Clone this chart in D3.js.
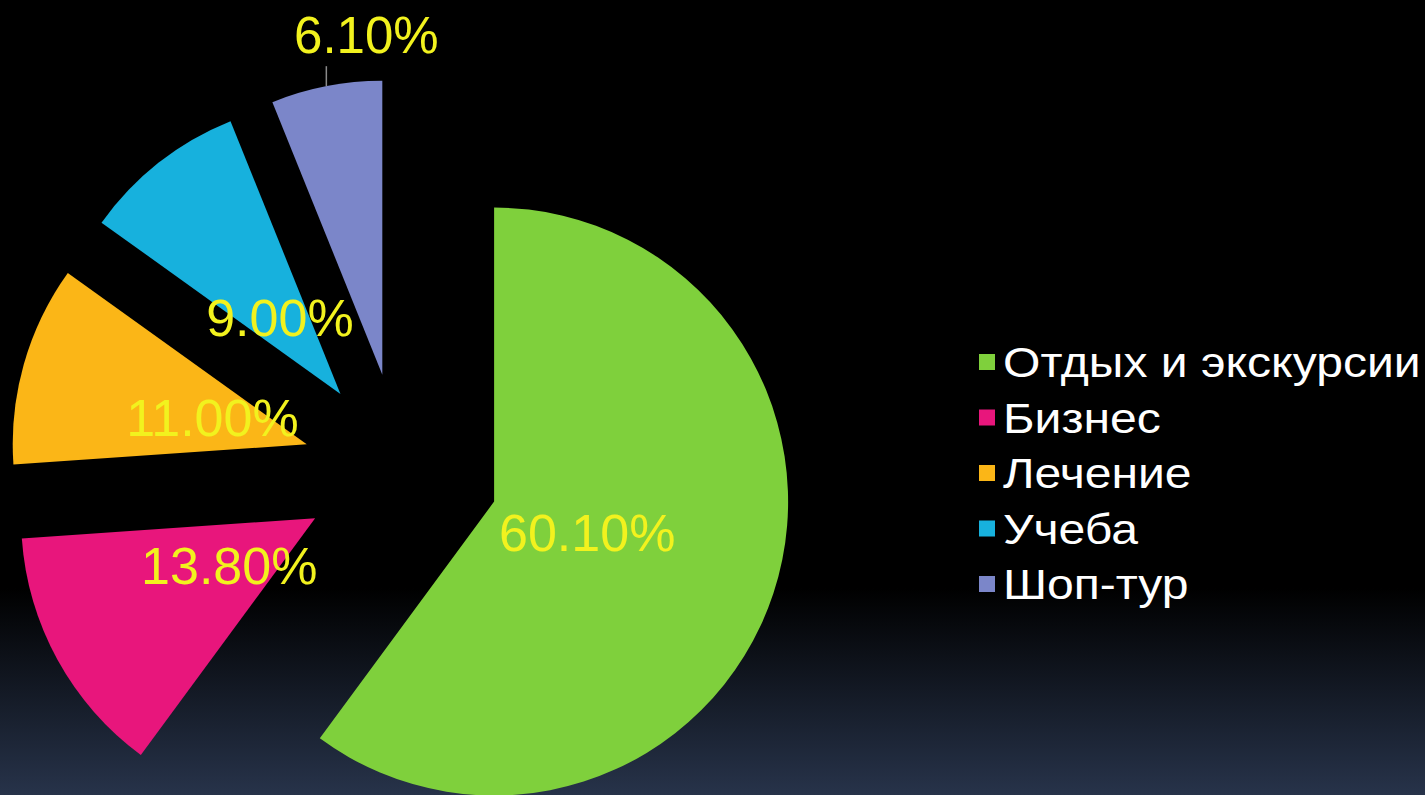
<!DOCTYPE html>
<html>
<head>
<meta charset="utf-8">
<script src="https://cdn.jsdelivr.net/npm/d3@7"></script>
<style>
  html, body { margin: 0; padding: 0; background: #000; overflow: hidden; }
  svg { display: block; }
</style>
</head>
<body>
<svg id="chart"></svg>
<script>
// data
const categories = ["Отдых и экскурсии", "Бизнес", "Лечение", "Учеба", "Шоп-тур"];
const values = [60.1, 13.8, 11.0, 9.0, 6.1];
const colors = ["#7fd03c", "#e8167c", "#fbb617", "#17b1dd", "#7b86c9"];

const width = 1425, height = 795;
let svg = d3.select("#chart").attr("width", width).attr("height", height);

// background gradient
let defs = svg.append("defs");
let grad = defs.append("linearGradient").attr("id", "bg").attr("x1", 0).attr("y1", 0).attr("x2", 0).attr("y2", 1);
grad.append("stop").attr("offset", "0").attr("stop-color", "#000");
grad.append("stop").attr("offset", "0.74").attr("stop-color", "#000");
grad.append("stop").attr("offset", "1").attr("stop-color", "#27334a");
svg.append("rect").attr("width", width).attr("height", height).attr("fill", "url(#bg)");

let radius = 294,
  explode = 98,
  g = svg.append("g").attr("transform", "translate(401,471)");

let pie = d3.pie().sort(null);
let arc = d3.arc().innerRadius(0).outerRadius(radius);
let midArc = d3.arc().innerRadius(explode).outerRadius(explode);
let outerArc = d3.arc().innerRadius(radius).outerRadius(radius);

// offset of each exploded slice along its bisector
function offset(d) {
  let a = (d.startAngle + d.endAngle) / 2;
  return [explode * Math.sin(a), -explode * Math.cos(a)];
}

let slices = g
  .selectAll(".slice")
  .data(pie(values))
  .enter()
  .append("g")
  .attr("class", "slice")
  .attr("transform", (d) => "translate(" + offset(d) + ")");

slices
  .append("path")
  .attr("fill", (d, i) => colors[i])
  .attr("d", arc);

// labels: inside for the big slices, outside with a leader for the last one
slices.each(function (d, i) {
  let s = d3.select(this);
  let label = d3.format(".2f")(values[i]) + "%";
  if (i < values.length - 1) {
    let c = midArc.centroid(d);
    s.append("text")
      .attr("x", c[0])
      .attr("y", c[1])
      .attr("dy", "0.36em")
      .attr("text-anchor", "middle")
      .attr("fill", "#f2f21e")
      .attr("font-family", "Liberation Sans, Arial, sans-serif")
      .attr("font-size", "52px")
      .text(label);
  } else {
    let p = outerArc.centroid(d);
    s.append("line")
      .attr("x1", p[0]).attr("y1", p[1])
      .attr("x2", p[0]).attr("y2", p[1] - 20)
      .attr("stroke", "#8a8a8a")
      .attr("stroke-width", 1.5);
    s.append("text")
      .attr("x", p[0] + 40)
      .attr("y", p[1] - 33)
      .attr("text-anchor", "middle")
      .attr("fill", "#f2f21e")
      .attr("font-family", "Liberation Sans, Arial, sans-serif")
      .attr("font-size", "51px")
      .text(label);
  }
});

// legend
let legend = svg
  .append("g")
  .attr("transform", "translate(979,362)")
  .selectAll(".item")
  .data(categories)
  .enter()
  .append("g")
  .attr("class", "item")
  .attr("transform", (d, i) => "translate(0," + i * 55.5 + ")");

legend
  .append("rect")
  .attr("x", 0)
  .attr("y", -8)
  .attr("width", 16)
  .attr("height", 16)
  .attr("fill", (d, i) => colors[i]);

// the original text runs a bit wider than Liberation Sans
legend
  .append("text")
  .attr("transform", "translate(24,0) scale(1.145,1)")
  .attr("dy", "0.36em")
  .attr("fill", "#fff")
  .attr("font-family", "Liberation Sans, Arial, sans-serif")
  .attr("font-size", "42px")
  .text((d) => d);
</script>
</body>
</html>
